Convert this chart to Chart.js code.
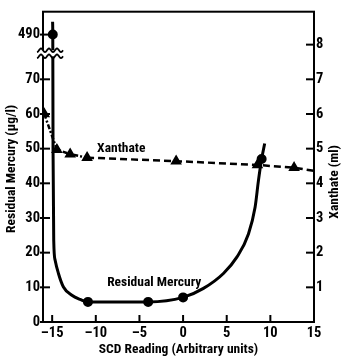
<!DOCTYPE html>
<html><head><meta charset="utf-8">
<script src="https://cdn.jsdelivr.net/npm/chart.js@4.4.0/dist/chart.umd.min.js"></script>
<style>html,body{margin:0;padding:0;background:#fff;overflow:hidden}#wrap{width:342px;height:356px;position:relative}</style>
</head><body><div id="wrap"><canvas id="c" width="342" height="356"></canvas></div>
<script>
const FONT = "'Roboto Condensed','Liberation Sans Narrow',sans-serif";

// ---- data ----
const mercuryX = [-14.95, -14.93, -14.90, -14.82, -14.66, -14.28, -13.71, -12.74, -11.79, -10.9, -4.0, 0.0, 2.33, 4.62, 6.16, 7.49, 8.25, 8.63, 9.0, 9.35];
const mercuryY = [800, 490, 50, 23.5, 17.8, 14.0, 10.1, 7.7, 6.5, 5.8, 5.8, 7.1, 9.7, 14.0, 18.7, 25.4, 33.1, 40.7, 47.0, 51.5];
const mercuryMarked = [0, 1, 0, 0, 0, 0, 0, 0, 0, 1, 1, 1, 0, 0, 0, 0, 0, 0, 1, 0];
const xanthateX = [-15.9, -14.46, -12.94, -11.0, -0.8, 8.52, 12.72, 15.0];
const xanthateY = [6.0, 4.97, 4.84, 4.74, 4.64, 4.53, 4.45, 4.36];
const xanthateMarked = [1, 1, 1, 1, 1, 1, 1, 0];
const xTicks = [-15, -10, -5, 0, 5, 10, 15];
const leftTicks = [0, 10, 20, 30, 40, 50, 60, 70, 490];
const rightTicks = [1, 2, 3, 4, 5, 6, 7, 8];
const seriesNames = ['Residual Mercury', 'Xanthate'];
const axisTitles = ['SCD Reading (Arbitrary units)', 'Residual Mercury (\u00b5g/l)', 'Xanthate (ml)'];

// ---- broken left axis: values above BREAK are compressed ----
const BREAK = 78, K = 0.01189;
const toDisp = v => v <= BREAK ? v : BREAK + (v - BREAK) * K;
const fromDisp = d => d <= BREAK ? d : BREAK + (d - BREAK) / K;
class BrokenScale extends Chart.LinearScale {
  getPixelForValue(v) { return super.getPixelForValue(v == null ? v : toDisp(v)); }
  getValueForPixel(p) { return fromDisp(super.getValueForPixel(p)); }
}
BrokenScale.id = 'broken';
BrokenScale.defaults = Chart.LinearScale.defaults;
Chart.register(BrokenScale);

const FS = 13.5, TS = 14.5;
const fontB = (s) => ({ family: FONT, size: s, weight: 'bold' });
const fmt = v => v < 0 ? '\u2013' + Math.abs(v) : String(v);

const deco = {
  id: 'deco',
  afterDatasetsDraw(chart) {
    const { ctx, chartArea: a, scales: { x, y, y2 } } = chart;
    ctx.save();
    ctx.strokeStyle = '#000'; ctx.fillStyle = '#000'; ctx.lineCap = 'butt';
    const line = (x1, y1, x2, y2_) => { ctx.beginPath(); ctx.moveTo(x1, y1); ctx.lineTo(x2, y2_); ctx.stroke(); };
    ctx.lineWidth = 2;
    ctx.strokeRect(a.left, a.top, a.right - a.left, a.bottom - a.top);
    xTicks.forEach(v => { const px = x.getPixelForValue(v); line(px, a.bottom, px, a.bottom - 7); });
    leftTicks.forEach(v => { const py = y.getPixelForValue(v); line(a.left - 3, py, a.left + 7, py); });
    rightTicks.forEach(v => { const py = y2.getPixelForValue(v); line(a.right - 8, py, a.right, py); });
    // axis break
    const by = y.getPixelForValue(77.5);
    ctx.fillStyle = '#fff';
    ctx.fillRect(a.left - 6, by - 3, 26, 6);
    const wave = (yy) => {
      ctx.beginPath();
      for (let xx = a.left - 6; xx <= a.left + 20; xx += 0.5) {
        const yv = yy + 1.8 * Math.sin((xx - a.left) / 8 * 2 * Math.PI);
        if (xx === a.left - 6) ctx.moveTo(xx, yv); else ctx.lineTo(xx, yv);
      }
      ctx.stroke();
    };
    ctx.lineWidth = 1.8;
    wave(by - 3); wave(by + 3);
    // series labels
    ctx.fillStyle = '#000';
    ctx.font = `bold ${FS}px ${FONT}`;
    ctx.textBaseline = 'middle'; ctx.textAlign = 'left';
    ctx.fillText(seriesNames[1], x.getPixelForValue(-9.85), y2.getPixelForValue(4.99));
    ctx.fillText(seriesNames[0], x.getPixelForValue(-8.7), y.getPixelForValue(11.5));
    // vertical axis titles (both read bottom-to-top)
    ctx.textAlign = 'center';
    ctx.save(); ctx.translate(12, (a.top + a.bottom) / 2 + 2); ctx.rotate(-Math.PI / 2);
    ctx.fillText(axisTitles[1], 0, 0); ctx.restore();
    ctx.save(); ctx.translate(335, (a.top + a.bottom) / 2 + 15); ctx.rotate(-Math.PI / 2);
    ctx.fillText(axisTitles[2], 0, 0); ctx.restore();
    ctx.restore();
  }
};

new Chart(document.getElementById('c'), {
  type: 'line',
  data: {
    datasets: [
      {
        label: seriesNames[0], yAxisID: 'y',
        data: mercuryX.map((v, i) => ({ x: v, y: mercuryY[i] })),
        borderColor: '#000', borderWidth: 3, backgroundColor: '#000',
        pointStyle: 'circle', pointRadius: mercuryMarked.map(m => m ? 3.5 : 0),
        cubicInterpolationMode: 'monotone', fill: false
      },
      {
        label: seriesNames[1], yAxisID: 'y2',
        data: xanthateX.map((v, i) => ({ x: v, y: xanthateY[i] })),
        borderColor: '#000', borderWidth: 2.5, backgroundColor: '#000',
        pointStyle: 'triangle', pointRadius: xanthateMarked.map(m => m ? 4.2 : 0),
        tension: 0, fill: false,
        segment: { borderDash: c => c.p0DataIndex < 3 ? [5, 2, 2, 2] : [7, 4] }
      }
    ]
  },
  options: {
    responsive: false, animation: false, devicePixelRatio: 1,
    layout: { padding: { top: 10, left: 0, right: 0, bottom: 0 } },
    plugins: { legend: { display: false }, tooltip: { enabled: false } },
    scales: {
      x: {
        type: 'linear', position: 'bottom', min: -16.05, max: 15, bounds: 'data',
        afterBuildTicks: s => { s.ticks = xTicks.map(v => ({ value: v })); },
        afterFit: s => { s.height = 34; },
        grid: { display: false, drawTicks: false }, border: { display: false },
        ticks: { autoSkip: false, maxRotation: 0, padding: 3, color: '#000', font: fontB(TS), callback: v => fmt(v) },
        title: { display: true, text: axisTitles[0], color: '#000', font: { ...fontB(FS), lineHeight: 1 }, padding: { top: 0, bottom: 0 } }
      },
      y: {
        type: 'broken', position: 'left', min: 0, max: 89.5, bounds: 'data',
        afterBuildTicks: s => { s.ticks = leftTicks.map(v => ({ value: v })); },
        afterFit: s => { s.width = 43; },
        grid: { display: false, drawTicks: false }, border: { display: false },
        ticks: { autoSkip: false, padding: 3, color: '#000', font: fontB(TS), callback: v => String(v) }
      },
      y2: {
        type: 'linear', position: 'right', min: 0, max: 8.95, bounds: 'data',
        afterBuildTicks: s => { s.ticks = rightTicks.map(v => ({ value: v })); },
        afterFit: s => { s.width = 28; },
        grid: { display: false, drawTicks: false }, border: { display: false },
        ticks: { autoSkip: false, padding: 2, color: '#000', font: fontB(TS), callback: v => String(v) }
      }
    }
  },
  plugins: [deco]
});
</script></body></html>
